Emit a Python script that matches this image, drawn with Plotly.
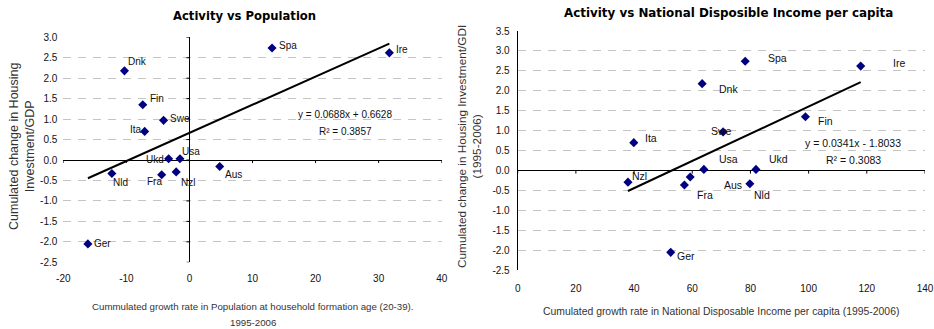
import plotly.graph_objects as go

# ---------------- data ----------------
countries = ["Spa", "Ire", "Dnk", "Fin", "Swe", "Ita", "Ukd", "Usa", "Aus", "Nld", "Fra", "Nzl", "Ger"]
housing_change = [2.74, 2.62, 2.18, 1.35, 0.97, 0.70, 0.03, 0.03, -0.16, -0.33, -0.36, -0.29, -2.05]
pop_growth = [13.1, 31.7, -10.3, -7.4, -4.1, -7.1, -3.3, -1.5, 4.8, -12.3, -4.4, -2.1, -16.1]
income_growth = [78.2, 117.9, 63.4, 98.9, 70.6, 39.9, 81.9, 64.0, 59.3, 79.8, 57.3, 37.9, 52.6]

trend_pop = [0.0688, 0.6628]        # slope, intercept (as printed on chart)
r2_pop = 0.3857
trend_inc = [0.0341, -1.8033]
r2_inc = 0.3083

left_xticks = [-20, -10, 0, 10, 20, 30, 40]
left_yticks = [-2.5, -2.0, -1.5, -1.0, -0.5, 0.0, 0.5, 1.0, 1.5, 2.0, 2.5, 3.0]
right_xticks = [0, 20, 40, 60, 80, 100, 120, 140]
right_yticks = [-2.5, -2.0, -1.5, -1.0, -0.5, 0.0, 0.5, 1.0, 1.5, 2.0, 2.5, 3.0, 3.5]

# ---------------- label placement (pixel offsets, style only) ----------------
left_label_pos = {
    "Spa": ("left", 5, 2), "Ire": ("left", 5, 3), "Dnk": ("left", 2, 9),
    "Fin": ("left", 5, 6), "Swe": ("left", 4, 2), "Ita": ("right", -1, 2),
    "Ukd": ("right", -3, -1), "Usa": ("left", 0, 7), "Aus": ("left", 3, -8),
    "Nld": ("left", -1, -9), "Fra": ("right", 2, -7), "Nzl": ("left", 3, -11),
    "Ger": ("left", 4, 0),
}
right_label_pos = {
    "Spa": ("left", 21, 3), "Ire": ("left", 30, 3), "Dnk": ("left", 15, -5),
    "Fin": ("left", 11, -4), "Swe": ("center", -2, 1), "Ita": ("left", 9, 5),
    "Usa": ("left", 13, 10), "Ukd": ("left", 11, 10), "Nzl": ("left", 2, 6),
    "Fra": ("left", 11, -10), "Aus": ("left", 32, -8), "Nld": ("left", 2, -11),
    "Ger": ("left", 4, -4),
}

W, H = 934, 329
FONT = "Liberation Sans, Arial, sans-serif"
TFONT = "DejaVu Sans, Verdana, sans-serif"
MARK = "#000080"
GRID = "#c4c4c4"


def px_dom(a, b, total, flip=False):
    if flip:
        return [1 - b / total, 1 - a / total]
    return [a / total, b / total]


def fmt(v, dec):
    return f"{v:.{dec}f}"


fig = go.Figure()

# scatter points
fig.add_trace(go.Scatter(x=pop_growth, y=housing_change, mode="markers",
                         marker=dict(symbol="diamond", size=7, color=MARK),
                         xaxis="x", yaxis="y", showlegend=False, hoverinfo="skip"))
fig.add_trace(go.Scatter(x=income_growth, y=housing_change, mode="markers",
                         marker=dict(symbol="diamond", size=7, color=MARK),
                         xaxis="x2", yaxis="y2", showlegend=False, hoverinfo="skip"))

# trend lines from printed equations
for xs, (m, c), xa, ya in [(pop_growth, trend_pop, "x", "y"), (income_growth, trend_inc, "x2", "y2")]:
    x0, x1 = min(xs), max(xs)
    fig.add_trace(go.Scatter(x=[x0, x1], y=[m * x0 + c, m * x1 + c], mode="lines",
                             line=dict(color="black", width=2), xaxis=xa, yaxis=ya,
                             showlegend=False, hoverinfo="skip"))

annotations = []
shapes = []

# data labels
for xs, pos, xr, yr, fs in [(pop_growth, left_label_pos, "x", "y", 10),
                            (income_growth, right_label_pos, "x2", "y2", 10.5)]:
    for name, xv, yv in zip(countries, xs, housing_change):
        anc, dx, dy = pos[name]
        annotations.append(dict(x=xv, y=yv, xref=xr, yref=yr, text=name, showarrow=False,
                                xanchor=anc, yanchor="middle", xshift=dx, yshift=dy,
                                font=dict(family=FONT, size=fs, color="#111")))

# tick marks on crossing axes
for t in left_xticks:
    shapes.append(dict(type="line", xref="x", yref="y", x0=t, x1=t, ysizemode="pixel",
                       yanchor=0, y0=0, y1=-3, line=dict(color="black", width=1)))
for t in left_yticks:
    shapes.append(dict(type="line", xref="x", yref="y", y0=t, y1=t, xsizemode="pixel",
                       xanchor=0, x0=0, x1=-3, line=dict(color="black", width=1)))
for t in right_xticks:
    shapes.append(dict(type="line", xref="x2", yref="y2", x0=t, x1=t, ysizemode="pixel",
                       yanchor=0, y0=0, y1=-3, line=dict(color="black", width=1)))
for t in right_yticks:
    shapes.append(dict(type="line", xref="x2", yref="y2", y0=t, y1=t, xsizemode="pixel",
                       xanchor=0, x0=0, x1=-4, line=dict(color="black", width=1)))

# equations
annotations += [
    dict(x=345 / W, y=1 - 114 / H, xref="paper", yref="paper", text=f"y = {trend_pop[0]}x + {trend_pop[1]}",
         showarrow=False, xanchor="center", yanchor="middle", font=dict(family=FONT, size=10, color="#111")),
    dict(x=345 / W, y=1 - 132 / H, xref="paper", yref="paper", text=f"R² = {r2_pop}",
         showarrow=False, xanchor="center", yanchor="middle", font=dict(family=FONT, size=10, color="#111")),
    dict(x=853 / W, y=1 - 143 / H, xref="paper", yref="paper", text=f"y = {trend_inc[0]}x - {abs(trend_inc[1])}",
         showarrow=False, xanchor="center", yanchor="middle", font=dict(family=FONT, size=10.5, color="#111")),
    dict(x=853 / W, y=1 - 160 / H, xref="paper", yref="paper", text=f"R² = {r2_inc}",
         showarrow=False, xanchor="center", yanchor="middle", font=dict(family=FONT, size=10.5, color="#111")),
]

# titles
annotations += [
    dict(x=245 / W, y=1 - 16 / H, xref="paper", yref="paper", text="<b>Activity vs Population</b>",
         showarrow=False, xanchor="center", yanchor="middle", font=dict(family=TFONT, size=11.6, color="black")),
    dict(x=728 / W, y=1 - 12.5 / H, xref="paper", yref="paper",
         text="<b>Activity vs National Disposible Income per capita</b>",
         showarrow=False, xanchor="center", yanchor="middle", font=dict(family=TFONT, size=11.9, color="black")),
]

# axis titles
AT = "#333"
annotations += [
    dict(x=253 / W, y=1 - 306 / H, xref="paper", yref="paper",
         text="Cummulated growth rate in Population at household formation age (20-39).",
         showarrow=False, xanchor="center", yanchor="middle", font=dict(family=FONT, size=9.7, color=AT)),
    dict(x=253 / W, y=1 - 322 / H, xref="paper", yref="paper", text="1995-2006",
         showarrow=False, xanchor="center", yanchor="middle", font=dict(family=FONT, size=9.7, color=AT)),
    dict(x=721 / W, y=1 - 311 / H, xref="paper", yref="paper",
         text="Cumulated growth rate in National Disposable Income per capita (1995-2006)",
         showarrow=False, xanchor="center", yanchor="middle", font=dict(family=FONT, size=10.4, color=AT)),
    dict(x=22 / W, y=1 - 146 / H, xref="paper", yref="paper",
         text="Cumulated change in Housing<br>Investment/GDP", textangle=-90,
         showarrow=False, xanchor="center", yanchor="middle", font=dict(family=FONT, size=12.5, color=AT)),
    dict(x=469 / W, y=1 - 147 / H, xref="paper", yref="paper",
         text="Cumulated change in Housing Investment/GDI<br>(1995-2006)", textangle=-90,
         showarrow=False, xanchor="center", yanchor="middle", font=dict(family=FONT, size=11.8, color=AT)),
]

tickfont = dict(family=FONT, size=10, color="#111")
common_y = dict(showgrid=True, gridcolor=GRID, griddash="8px,7px", gridwidth=1, zeroline=True,
                zerolinecolor="black", zerolinewidth=1, ticks="", showline=False,
                tickfont=tickfont, fixedrange=True, automargin=False)
common_x = dict(showgrid=False, zeroline=True, zerolinecolor="black", zerolinewidth=1,
                ticks="", showline=False, tickfont=tickfont, fixedrange=True, automargin=False)

fig.update_layout(
    width=W, height=H, margin=dict(l=0, r=0, t=0, b=0, autoexpand=False),
    paper_bgcolor="white", plot_bgcolor="white",
    xaxis=dict(domain=px_dom(63.3, 441.7, W), range=[-20, 40], tickvals=left_xticks,
               ticktext=[fmt(t, 0) for t in left_xticks],
               anchor="y", ticklabelstandoff=9, **common_x),
    yaxis=dict(domain=px_dom(37.3, 262.3, H, flip=True), range=[-2.5, 3.0], tickvals=left_yticks,
               ticktext=[fmt(t, 1) for t in left_yticks],
               anchor="x", ticklabelstandoff=5, **common_y),
    xaxis2=dict(domain=px_dom(517.7, 925, W), range=[0, 140], tickvals=right_xticks,
                ticktext=[fmt(t, 0) for t in right_xticks],
                anchor="y2", ticklabelstandoff=11, **common_x),
    yaxis2=dict(domain=px_dom(31, 270.3, H, flip=True), range=[-2.5, 3.5], tickvals=right_yticks,
                ticktext=[fmt(t, 1) for t in right_yticks],
                anchor="x2", ticklabelstandoff=7, **common_y),
    annotations=annotations, shapes=shapes,
)

fig.write_html("out.html", config={"displayModeBar": False},
               post_script="document.body.style.margin='0';document.body.style.overflow='hidden';")
